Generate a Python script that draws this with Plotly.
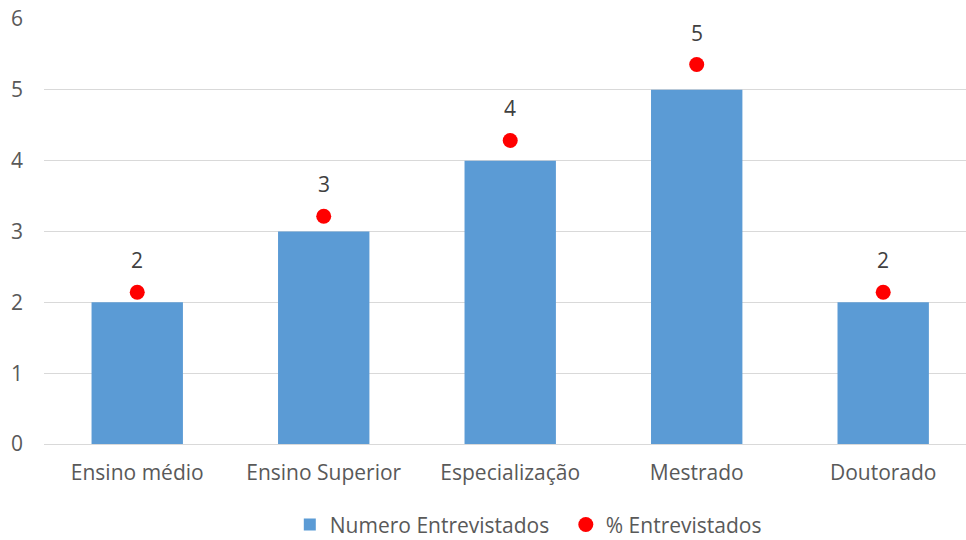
import plotly.graph_objects as go

# Escolaridade dos entrevistados
categorias = ["Ensino médio", "Ensino Superior", "Especialização", "Mestrado", "Doutorado"]
numero_entrevistados = [2, 3, 4, 5, 2]
pct_entrevistados = [0.125, 0.1875, 0.25, 0.3125, 0.125]
rotulos = [str(v) for v in numero_entrevistados]

FONT = "'Open Sans', Lato, sans-serif"
GRAY = "#595959"
FS = 21

fig = go.Figure()

fig.add_trace(go.Bar(
    x=categorias,
    y=numero_entrevistados,
    name="Numero Entrevistados",
    marker=dict(color="#5B9BD5", line=dict(width=0)),
    width=0.49,
    yaxis="y",
))

fig.add_trace(go.Scatter(
    x=categorias,
    y=pct_entrevistados,
    name="% Entrevistados",
    mode="markers",
    marker=dict(color="#FF0000", size=15),
    yaxis="y2",
))

# rótulos de dados acima de cada ponto
for cat, pct, rot in zip(categorias, pct_entrevistados, rotulos):
    fig.add_annotation(
        x=cat, y=pct, xref="x", yref="y2",
        text=rot, showarrow=False, yshift=32,
        font=dict(family=FONT, size=FS, color="#404040"),
    )

fig.update_layout(
    width=966,
    height=540,
    margin=dict(l=44, r=0, t=19, b=96),
    paper_bgcolor="white",
    plot_bgcolor="white",
    font=dict(family=FONT, size=FS, color=GRAY),
    bargap=0.51,
    xaxis=dict(
        type="category",
        range=[-0.5, 4.444],
        showgrid=False,
        showline=False,
        ticks="",
        ticklabelstandoff=14,
        automargin=False,
        tickfont=dict(size=FS, color=GRAY),
    ),
    yaxis=dict(
        range=[0, 6],
        dtick=1,
        showgrid=True,
        gridcolor="#D9D9D9",
        gridwidth=1.3,
        zeroline=True,
        zerolinecolor="#D9D9D9",
        zerolinewidth=1.3,
        ticks="",
        ticklabelstandoff=20,
        automargin=False,
        tickfont=dict(size=FS, color=GRAY),
    ),
    yaxis2=dict(
        range=[0, 0.35],
        overlaying="y",
        side="right",
        visible=False,
    ),
    legend=dict(
        orientation="h",
        x=0.3,
        xanchor="left",
        xref="container",
        y=0.028,
        yanchor="middle",
        yref="container",
        font=dict(size=FS, color=GRAY),
        itemwidth=30,
        entrywidth=231,
    ),
    showlegend=True,
)

fig.write_html("out.html")
